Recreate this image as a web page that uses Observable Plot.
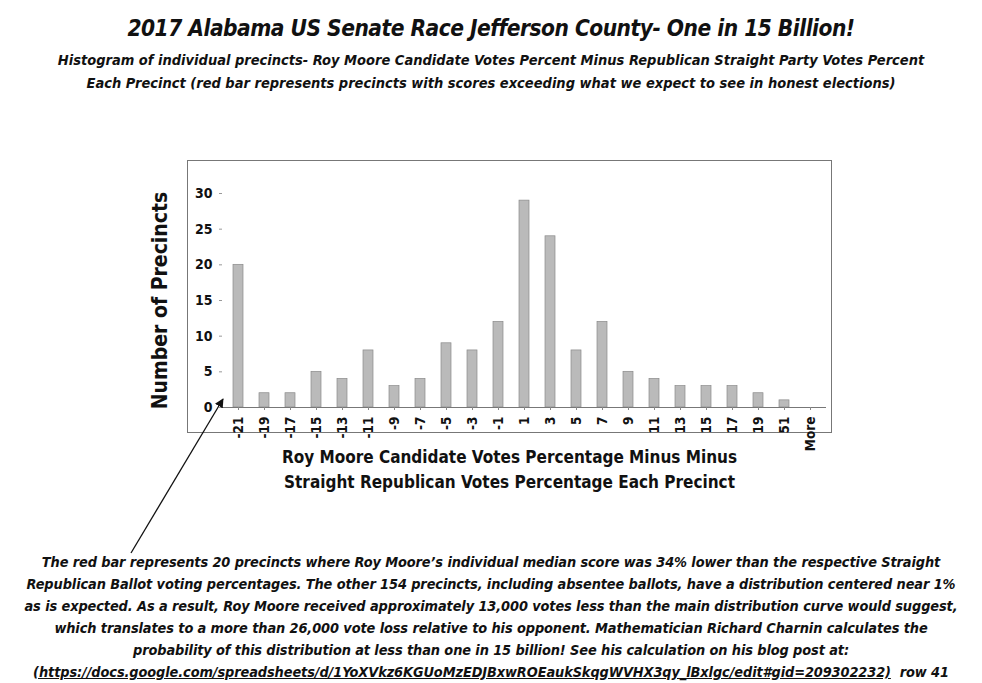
<!DOCTYPE html>
<html>
<head>
<meta charset="utf-8">
<script src="https://cdn.jsdelivr.net/npm/d3@7"></script>
<script src="https://cdn.jsdelivr.net/npm/@observablehq/plot@0.6"></script>
<style>
  body { margin:0; background:#fff; width:982px; height:683px; position:relative; overflow:hidden;
         font-family:"Liberation Sans Narrow","DejaVu Sans Condensed","Open Sans",sans-serif; color:#111; }
  .abs { position:absolute; }
  #title { left:0; width:982px; top:15px; text-align:center; font-weight:bold; font-style:italic; font-size:22.5px; letter-spacing:-0.5px; }
  #sub { left:0; width:982px; top:49px; text-align:center; font-style:italic; font-weight:bold; font-size:14.5px; line-height:23px; }
  #frame { left:187px; top:160px; width:645px; height:273px; border:1px solid #777; box-sizing:border-box; }
  #chart { left:130px; top:155px; }
  #xtitle { left:187px; width:645px; top:445px; text-align:center; font-weight:bold; font-size:17px; line-height:25px; }
  #caption { left:0; width:982px; top:551px; text-align:center; font-style:italic; font-weight:bold; font-size:14.4px; line-height:22px; letter-spacing:-0.1px; }
  #caption u { text-decoration:underline; }
  #arrow { left:0; top:0; }
</style>
</head>
<body>
<div id="title" class="abs">2017 Alabama US Senate Race Jefferson County- One in 15 Billion!</div>
<div id="sub" class="abs">Histogram of individual precincts- Roy Moore Candidate Votes Percent Minus Republican Straight Party Votes Percent<br>Each Precinct (red bar represents precincts with scores exceeding what we expect to see in honest elections)</div>
<div id="frame" class="abs"></div>
<div id="chart" class="abs"></div>
<div id="xtitle" class="abs">Roy Moore Candidate Votes Percentage Minus Minus<br>Straight Republican Votes Percentage Each Precinct</div>
<div id="caption" class="abs">The red bar represents 20 precincts where Roy Moore’s individual median score was 34% lower than the respective Straight<br>Republican Ballot voting percentages. The other 154 precincts, including absentee ballots, have a distribution centered near 1%<br>as is expected. As a result, Roy Moore received approximately 13,000 votes less than the main distribution curve would suggest,<br>which translates to a more than 26,000 vote loss relative to his opponent. Mathematician Richard Charnin calculates the<br>probability of this distribution at less than one in 15 billion! See his calculation on his blog post at:<br><u>(https://docs.google.com/spreadsheets/d/1YoXVkz6KGUoMzEDJBxwROEaukSkqgWVHX3qy_lBxlgc/edit#gid=209302232)</u>&nbsp; row 41</div>
<svg id="arrow" class="abs" width="982" height="683">
  <defs><marker id="ah" viewBox="0 0 10 10" refX="9" refY="5" markerWidth="7" markerHeight="7" orient="auto"><path d="M0,0L10,5L0,10z" fill="#111"/></marker></defs>
  <line x1="131" y1="553" x2="223" y2="399" stroke="#111" stroke-width="1.3" marker-end="url(#ah)"/>
</svg>
<script>
const bins = ["-21","-19","-17","-15","-13","-11","-9","-7","-5","-3","-1","1","3","5","7","9","11","13","15","17","19","51","More"];
const counts = [20,2,2,5,4,8,3,4,9,8,12,29,24,8,12,5,4,3,3,3,2,1,0];
const yTicks = [0,5,10,15,20,25,30];

const data = bins.map((b,i)=>({bin:b, count:counts[i]}));

const chart = Plot.plot({
  width: 710,
  height: 345,
  marginLeft: 92,
  marginRight: 14,
  marginTop: 38,
  marginBottom: 93,
  style: {fontFamily:'"Liberation Sans Narrow","DejaVu Sans Condensed",sans-serif', fontSize:"13px", fontWeight:"bold", color:"#111", background:"transparent"},
  x: {domain: bins, paddingInner: 0.62, paddingOuter: 0.2, label: null},
  y: {domain:[0,30], ticks: yTicks, label: "Number of Precincts", labelAnchor:"center", labelArrow:"none", line:true},
  marks: [
    Plot.barY(data, {x:"bin", y:"count", fill:"#bababa", stroke:"#8a8a8a", strokeWidth:0.7}),
    Plot.ruleY([0], {stroke:"#777"}),
    Plot.axisX({tickRotate:-90, tickSize:3, tickPadding:6, stroke:"#888", fontSize:13.5, fontWeight:"bold"}),
    Plot.axisY({ticks: yTicks, tickSize:3, tickPadding:7, stroke:"#999", fontSize:14, fontWeight:"bold", label:"Number of Precincts", labelAnchor:"center", labelArrow:"none", labelOffset:70}),
  ]
});
document.getElementById("chart").appendChild(chart);
const svg = d3.select(chart);
svg.selectAll("[aria-label='y-axis label'] text, [aria-label='y-axis label']").style("font-size","21px").style("font-weight","bold");
// remove an arrow if this version does not support labelArrow
svg.selectAll("[aria-label='y-axis label'] text").each(function(){ this.textContent = this.textContent.replace(/\s*↑\s*$/,"").replace(/^\s*↑\s*/,""); });
</script>
</body>
</html>
